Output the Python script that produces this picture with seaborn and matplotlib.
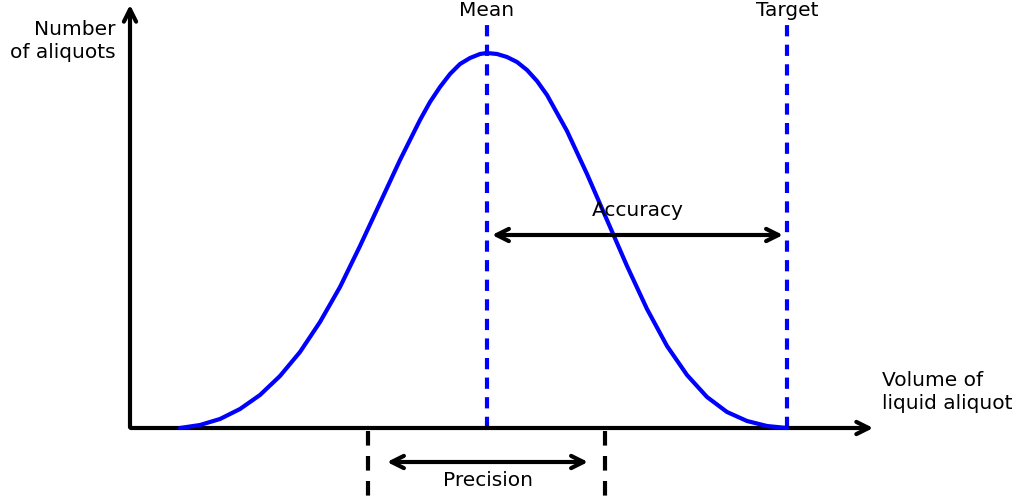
import numpy as np
import pandas as pd
import matplotlib
matplotlib.use("Agg")
import matplotlib.pyplot as plt
import seaborn as sns

# bell curve (x = volume, y = number of aliquots)
volume = [50, 70, 90, 110, 130, 150, 170, 190, 210, 230, 250, 270, 290, 300, 310,
          320, 330, 340, 350, 357, 367, 377, 387, 397, 407, 417, 437, 457, 477, 497,
          517, 537, 557, 577, 597, 617, 637, 657]
count = [0, 3, 9, 19, 33, 52, 76, 106, 141, 182, 225, 268, 308, 326, 341,
         354, 364, 370, 374, 375, 374, 371, 366, 358, 347, 333, 297, 254, 208, 162,
         119, 82, 53, 31, 16, 7, 2, 0]

mean_x = 357
target_x = 657
precision_x = [238, 475]

df = pd.DataFrame({"volume": volume, "count": count})

sns.set_style("white")
plt.rcParams["font.family"] = ["DejaVu Sans"]
plt.rcParams["text.color"] = "black"

fig = plt.figure(figsize=(10.24, 4.98), dpi=100)
ax = fig.add_axes([0, 0, 1, 1])
ax.set_xlim(-130, 894)
ax.set_ylim(-70, 428)
ax.set_axis_off()

blue = "#0000ff"
fs = 14.5

# axes with arrows
ax.annotate("", xy=(0, 426), xytext=(0, -2),
            arrowprops=dict(arrowstyle="->", lw=3, color="black", mutation_scale=22))
ax.annotate("", xy=(746, 0), xytext=(-2, 0),
            arrowprops=dict(arrowstyle="->", lw=3, color="black", mutation_scale=22))

# the curve
sns.lineplot(data=df, x="volume", y="count", color=blue, lw=3, ax=ax, zorder=3,
             solid_joinstyle="round", solid_capstyle="round")

# mean and target lines
for xv in [mean_x, target_x]:
    ax.plot([xv, xv], [0, 403], color=blue, lw=3, ls=(0, (2.7, 2)), zorder=2)

# precision lines under the axis
for xv in precision_x:
    ax.plot([xv, xv], [-3, -70], color="black", lw=3, ls=(0, (3.5, 2.5)))

# accuracy arrow
ax.annotate("", xy=(653, 193), xytext=(362, 193),
            arrowprops=dict(arrowstyle="<->", lw=3, color="black", mutation_scale=22,
                            shrinkA=0, shrinkB=0))
ax.text(508, 218, "Accuracy", ha="center", va="center", fontsize=fs)

# precision arrow
ax.annotate("", xy=(458, -34), xytext=(257, -34),
            arrowprops=dict(arrowstyle="<->", lw=3, color="black", mutation_scale=22,
                            shrinkA=0, shrinkB=0))
ax.text(358, -52, "Precision", ha="center", va="center", fontsize=fs)

ax.text(mean_x, 418, "Mean", ha="center", va="center", fontsize=fs)
ax.text(target_x, 418, "Target", ha="center", va="center", fontsize=fs)
ax.text(-14, 387, "Number\nof aliquots", ha="right", va="center", fontsize=fs,
        multialignment="right", linespacing=1.3)
ax.text(752, 36, "Volume of\nliquid aliquot", ha="left", va="center", fontsize=fs,
        multialignment="left", linespacing=1.3)

fig.savefig("out.png", dpi=100)
